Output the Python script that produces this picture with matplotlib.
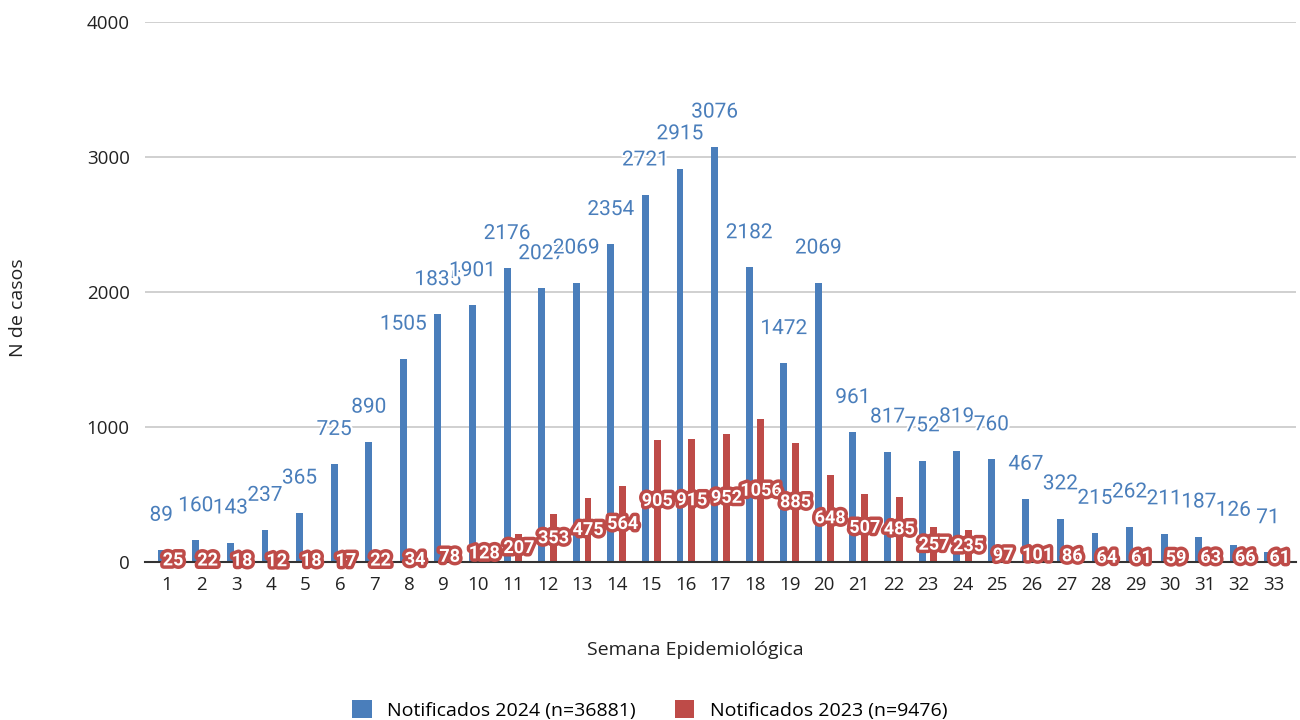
import matplotlib
matplotlib.use("Agg")
import matplotlib.pyplot as plt
import matplotlib.patheffects as pe
import numpy as np

weeks = [str(i) for i in range(1, 34)]
notif_2024 = [89, 160, 143, 237, 365, 725, 890, 1505, 1835, 1901, 2176, 2027, 2069, 2354,
              2721, 2915, 3076, 2182, 1472, 2069, 961, 817, 752, 819, 760, 467, 322, 215,
              262, 211, 187, 126, 71]
notif_2023 = [25, 22, 18, 12, 18, 17, 22, 34, 78, 128, 207, 353, 475, 564, 905, 915, 952,
              1056, 885, 648, 507, 485, 257, 235, 97, 101, 86, 64, 61, 59, 63, 66, 61]
label_2024 = "Notificados 2024 (n=36881)"
label_2023 = "Notificados 2023 (n=9476)"

BLUE = "#4a7ebb"
RED = "#be4b48"

fig = plt.figure(figsize=(13, 7.2), dpi=100)
ax = fig.add_axes([0.1115, 0.2194, 0.8854, 0.75])

x = np.arange(len(weeks))
off = 0.17
w = 0.2
ax.bar(x - off, notif_2024, width=w, color=BLUE, label=label_2024, zorder=3)
ax.bar(x + off, notif_2023, width=w, color=RED, label=label_2023, zorder=3)

for xi, v in zip(x, notif_2024):
    ax.annotate(str(v), (xi - off, v), xytext=(0, 25), textcoords="offset points",
                ha="center", va="center", fontsize=15, color=BLUE, family="Roboto",
                zorder=5, path_effects=[pe.withStroke(linewidth=3, foreground="white")])
for xi, v in zip(x, notif_2023):
    ax.text(xi + off, v / 2, str(v), ha="center", va="center", fontsize=13,
            color="white", family="Roboto", weight="bold", zorder=6,
            path_effects=[pe.withStroke(linewidth=5, foreground=RED)])

ax.set_xlim(-0.64, len(weeks) - 0.36)
ax.set_ylim(0, 4000)
ax.set_yticks([0, 1000, 2000, 3000, 4000])
ax.set_xticks(x)
ax.set_xticklabels(weeks)
for lab in ax.get_xticklabels() + ax.get_yticklabels():
    lab.set_family("Open Sans")
    lab.set_fontsize(13.5)
    lab.set_color("#222222")
ax.tick_params(axis="both", length=0)
ax.tick_params(axis="y", pad=11)
ax.tick_params(axis="x", pad=10)
ax.grid(axis="y", color="#c8c8c8", linewidth=1.2, zorder=0)
for s in ["top", "right", "left"]:
    ax.spines[s].set_visible(False)
ax.spines["bottom"].set_color("#333333")
ax.spines["bottom"].set_linewidth(1.5)
ax.spines["bottom"].set_zorder(4)

fig.text(695 / 1300, 1 - 650 / 720, "Semana Epidemiológica", ha="center", va="center",
         fontsize=14, family="Open Sans", color="#222222")
fig.text(18 / 1300, 1 - 308 / 720, "N de casos", ha="center", va="center", rotation=90,
         fontsize=14, family="Open Sans", color="#222222")

fig.legend(loc="center", bbox_to_anchor=(0.5, 1 - 710 / 720), ncol=2, frameon=False,
           prop={"family": "Open Sans", "size": 14}, handlelength=1.0, handleheight=1.0,
           columnspacing=2.0, handletextpad=0.8)

fig.savefig("out.png", dpi=100)
